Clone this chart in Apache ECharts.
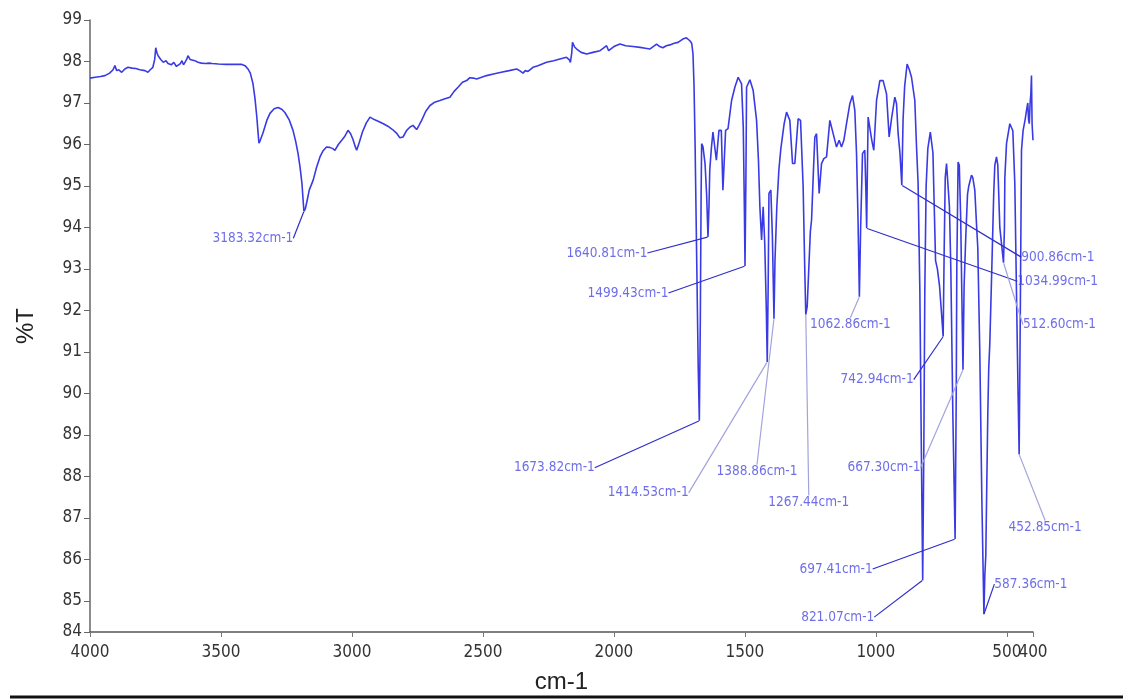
<!DOCTYPE html>
<html>
<head>
<meta charset="utf-8">
<script src="https://cdn.jsdelivr.net/npm/echarts@6/dist/echarts.min.js"></script>
<style>
html,body{margin:0;padding:0;background:#ffffff;}
#chart{width:1123px;height:699px;}
</style>
</head>
<body>
<div id="chart"></div>
<script>
// ---------------- DATA ----------------
const waveNumbers = [
4000,3980,3960,3943,3925,3912,3905,3898,3890,3879,3867,3855,3840,3825,3810,3790,3779,3770,3760,3753,
3749,3744,3740,3730,3720,3710,3702,3690,3680,3670,3664,3655,3649,3643,3637,3631,3626,3618,3611,3600,
3588,3575,3560,3545,3534,3510,3480,3450,3420,3408,3397,3388,3378,3370,3363,3358,3355,3350,3340,3325,
3313,3297,3282,3268,3256,3240,3225,3215,3206,3198,3191,3186,3183.32,3178,3172,3163,3148,3135,3122,3110,
3097,3085,3073,3065,3052,3039,3027,3015,3005,2996,2988,2982,2972,2960,2945,2931,2915,2900,2880,2863,
2845,2828,2817,2805,2791,2778,2767,2753,2745,2734,2718,2702,2684,2664,2645,2626,2610,2595,2578,2562,
2550,2537,2524,2505,2486,2460,2430,2400,2371,2360,2347,2338,2328,2309,2290,2257,2230,2206,2181,2170,
2166,2161,2158,2150,2142,2125,2104,2080,2053,2040,2028,2020,2015,2000,1977,1955,1927,1900,1880,1863,
1850,1837,1825,1813,1800,1786,1770,1755,1737,1723,1710,1703,1698,1694,1690,1684,1678,1673.82,1670,1667,
1665,1660,1652,1646,1640.81,1637,1634,1628,1621.8,1615.3,1608.8,1598.9,1589.9,1583.8,1573.5,1564.3,1550.7,1538.2,1525.6,1512.6,
1506,1502,1499.43,1496,1493.5,1480.8,1468.2,1455.3,1448,1442.7,1436.2,1430.1,1424,1418,1414.53,1411,1408,1400.8,1395,1391,
1388.86,1385,1378,1370,1362.6,1350,1340.9,1328.3,1318,1309.2,1296.6,1287.4,1277.5,1272,1267.44,1262,1256,1250,1245.4,1238,
1232.8,1226.3,1216.4,1207.3,1198.5,1188.2,1175.6,1168,1156.5,1150.1,1140.1,1131,1122.2,1111.9,1099.3,1089,1080.2,1073.7,1068,1062.86,
1058,1050.9,1042.1,1038,1034.99,1032,1029.4,1023.1,1015.4,1007.8,997.3,984.7,972.2,959.2,949.2,940.1,927.5,921,914.9,908,
900.86,896,890,880.6,872,863.8,851.2,845,838.6,832,826,821.07,817,813,808,801.5,792,787.4,782,777,
772,765,757,750,742.94,739,735,730.1,725.2,719,713.7,706,697.41,693,690.9,686,681.4,676,672,667.30,
663,656.5,650,645.1,634.8,629.8,622.2,615,610.7,603.1,595.4,587.36,584,580.2,576,572.6,569,564.9,557.3,550,
545.8,539.3,534.4,526.7,520,512.60,509,507.5,501.1,488.5,477,469.4,462,457,452.85,449,443.9,437.8,430,424.8,
419.9,417,414.2,411,408.4,405.8,403.5,400
];
const transmittance = [
97.60,97.62,97.64,97.66,97.72,97.80,97.90,97.78,97.80,97.74,97.82,97.86,97.84,97.83,97.80,97.78,97.74,97.80,97.86,98.05,
98.33,98.20,98.14,98.05,97.98,98.02,97.95,97.92,97.98,97.88,97.90,97.95,98.02,97.92,97.90,98.05,98.14,98.05,98.07,98.02,
97.98,97.96,97.95,97.96,97.95,97.94,97.93,97.93,97.93,97.90,97.82,97.72,97.47,97.10,96.65,96.25,96.03,96.10,96.27,96.58,
96.75,96.86,96.89,96.85,96.77,96.60,96.34,96.08,95.79,95.45,95.07,94.62,94.39,94.45,94.62,94.90,95.14,95.45,95.70,95.85,
95.94,95.93,95.90,95.86,96.00,96.10,96.20,96.34,96.26,96.12,95.96,95.86,96.05,96.30,96.52,96.66,96.60,96.56,96.50,96.44,
96.36,96.26,96.16,96.18,96.34,96.42,96.46,96.36,96.45,96.58,96.80,96.94,97.02,97.06,97.10,97.14,97.28,97.38,97.50,97.54,
97.61,97.60,97.58,97.62,97.66,97.70,97.74,97.78,97.82,97.78,97.72,97.78,97.76,97.86,97.90,97.98,98.02,98.06,98.10,98.04,
97.98,98.20,98.46,98.35,98.30,98.22,98.18,98.22,98.26,98.32,98.38,98.26,98.22,98.36,98.42,98.38,98.36,98.34,98.32,98.30,
98.36,98.42,98.36,98.33,98.38,98.40,98.44,98.46,98.54,98.57,98.50,98.44,98.18,97.40,96.00,93.30,90.60,89.34,91.80,94.80,
96.02,95.95,95.54,94.80,93.77,94.50,95.38,95.90,96.30,96.34,95.62,96.34,96.34,94.90,96.34,96.38,97.06,97.38,97.62,97.46,
96.40,94.50,93.07,95.20,97.38,97.56,97.30,96.58,95.60,94.50,93.70,94.50,93.60,92.00,90.76,92.60,94.82,94.90,93.80,92.50,
91.80,93.20,94.50,95.40,95.90,96.50,96.78,96.58,95.54,95.54,96.62,96.58,94.98,93.20,91.90,92.10,93.00,93.90,94.18,95.40,
96.18,96.26,94.82,95.54,95.66,95.70,96.58,96.58,96.10,95.94,96.10,95.94,96.10,96.50,96.98,97.18,96.82,95.78,94.20,92.33,
94.00,95.78,95.86,94.90,93.98,95.50,96.66,96.70,96.10,95.86,97.06,97.54,97.54,97.22,96.18,96.62,97.14,96.98,96.26,95.80,
95.02,96.60,97.40,97.94,97.80,97.62,97.06,96.00,95.06,92.50,88.50,85.50,88.50,92.50,95.00,95.90,96.30,96.34,95.80,94.50,
93.20,93.00,92.60,92.00,91.37,93.50,95.20,95.54,95.54,94.50,93.00,89.50,86.49,90.00,93.00,95.58,95.50,94.20,92.50,90.57,
92.60,93.80,94.80,95.00,95.26,95.20,94.90,94.00,93.50,91.00,87.50,84.68,85.60,86.10,88.00,89.50,90.60,91.20,93.00,94.80,
95.50,95.70,95.50,94.00,93.60,93.15,94.00,95.20,96.02,96.50,96.33,95.06,92.00,90.00,88.53,91.50,95.86,96.34,96.60,96.82,
97.00,96.60,96.50,97.00,97.20,97.66,96.50,96.10
];

const peakWaveNumbers = [3183.32,1673.82,1640.81,1499.43,1414.53,1388.86,1267.44,1062.86,1034.99,900.86,821.07,742.94,697.41,667.30,587.36,512.60,452.85];
const peakTransmittance = [94.39,89.34,93.77,93.07,90.76,91.80,91.90,92.33,93.98,95.02,85.50,91.37,86.49,90.57,84.68,93.15,88.53];
const peakLabels = ['3183.32cm-1','1673.82cm-1','1640.81cm-1','1499.43cm-1','1414.53cm-1','1388.86cm-1','1267.44cm-1','1062.86cm-1','1034.99cm-1','900.86cm-1','821.07cm-1','742.94cm-1','697.41cm-1','667.30cm-1','587.36cm-1','512.60cm-1','452.85cm-1'];

const xTickValues = [4000,3500,3000,2500,2000,1500,1000,500];
const xEndTickValues = [400];
const yTickValues = [84.25,85,86,87,88,89,90,91,92,93,94,95,96,97,98,99];
const yTickLabels = ['84','85','86','87','88','89','90','91','92','93','94','95','96','97','98','99'];
const xAxisTitle = 'cm-1';
const yAxisTitle = '%T';

// ---------------- LAYOUT / STYLE ----------------
// label centre offsets (px) from each peak point
const labelOffsets = [
[-51,27],[-145,47],[-101,16],[-117,27],[-119,131],[-17,153],[3,188],[-9,28],[191,53],[156,72],
[-85,37],[-66,43],[-119,30],[-79,98],[47,-30],[56,62],[26,73]
];
const lightLeaders = [4,5,6,7,13,15,16];
const DARK = '#2f2fc6', LIGHT = '#a3a3de';
const condensed = "'Liberation Sans Narrow','DejaVu Sans Condensed','Roboto Condensed','Open Sans Condensed',sans-serif";
const tickFont = { fontFamily: condensed, fontSize: 17, color: '#333' };

const spectrum = waveNumbers.map((w, i) => [w, transmittance[i]]);
const peaks = peakWaveNumbers.map((w, i) => ({
  value: [w, peakTransmittance[i]],
  name: peakLabels[i],
  labelLine: { lineStyle: { color: lightLeaders.includes(i) ? LIGHT : DARK } }
}));

const baseX = { type: 'value', inverse: true, min: 400, max: 4000, gridIndex: 0, position: 'bottom', splitLine: { show: false } };

const chart = echarts.init(document.getElementById('chart'), null, { renderer: 'canvas' });
chart.setOption({
  animation: false,
  backgroundColor: '#ffffff',
  grid: { left: 90, right: 90, top: 20, bottom: 66 },
  xAxis: [
    Object.assign({}, baseX, {
      name: xAxisTitle, nameLocation: 'middle', nameGap: 38,
      nameTextStyle: { fontFamily: 'Liberation Sans, Arial, sans-serif', fontSize: 24, color: '#222' },
      axisLine: { show: true, lineStyle: { color: '#555', width: 1.5 } },
      axisTick: { show: true, length: 5, customValues: xTickValues, lineStyle: { color: '#777' } },
      axisLabel: Object.assign({ customValues: xTickValues, margin: 12, formatter: v => String(v), hideOverlap: false }, tickFont)
    }),
    Object.assign({}, baseX, {
      axisLine: { show: false },
      axisTick: { show: true, length: 5, customValues: xEndTickValues, lineStyle: { color: '#777' } },
      axisLabel: Object.assign({ customValues: xEndTickValues, margin: 12, formatter: v => String(v) }, tickFont)
    })
  ],
  yAxis: {
    type: 'value', min: 84.25, max: 99,
    name: yAxisTitle, nameLocation: 'middle', nameGap: 52, nameRotate: 90,
    nameTextStyle: { fontFamily: 'Liberation Sans, Arial, sans-serif', fontSize: 24, color: '#222' },
    axisLine: { show: true, lineStyle: { color: '#666', width: 1.5 } },
    axisTick: { show: true, length: 6, customValues: yTickValues, lineStyle: { color: '#666' } },
    axisLabel: Object.assign({ customValues: yTickValues, margin: 8,
      formatter: v => { const k = yTickValues.indexOf(v); return k >= 0 ? yTickLabels[k] : ''; } }, tickFont),
    splitLine: { show: false }
  },
  series: [
    {
      type: 'line', data: spectrum, showSymbol: false, symbol: 'none',
      lineStyle: { color: '#3a3ae4', width: 1.6 }, z: 2
    },
    {
      type: 'scatter', data: peaks, symbol: 'circle', symbolSize: 1,
      itemStyle: { color: 'rgba(0,0,0,0)' }, z: 3, silent: true,
      label: { show: true, position: 'inside', formatter: p => p.name,
        fontFamily: condensed, fontSize: 13.5, color: '#4a4ae2' },
      labelLine: { show: true, lineStyle: { width: 1.2, color: DARK } },
      labelLayout: p => ({ dx: labelOffsets[p.dataIndex][0], dy: labelOffsets[p.dataIndex][1], hideOverlap: false })
    }
  ],
  graphic: [
    { type: 'line', shape: { x1: 10, y1: 697, x2: 1123, y2: 697 }, style: { stroke: '#111', lineWidth: 3 }, silent: true }
  ]
});
</script>
</body>
</html>
